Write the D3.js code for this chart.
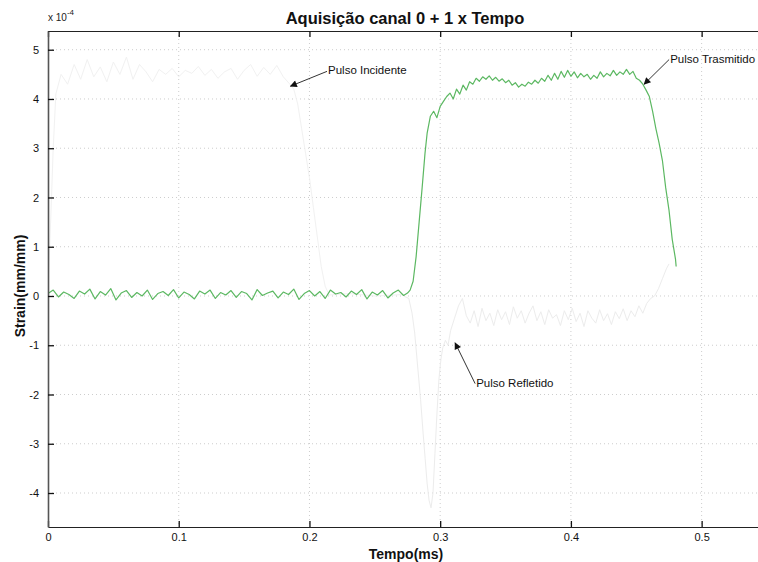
<!DOCTYPE html>
<html>
<head>
<meta charset="utf-8">
<script src="https://cdn.jsdelivr.net/npm/d3@7/dist/d3.min.js"></script>
<style>
  html, body { margin: 0; padding: 0; background: #fff; }
  svg { display: block; font-family: "Liberation Sans", Arial, sans-serif; }
</style>
</head>
<body>
<svg id="chart" width="758" height="562"></svg>
<script>
// Strain values in units of 1e-4 mm/mm, time in ms.
const xTicks = [0, 0.1, 0.2, 0.3, 0.4, 0.5];
const xTickLabels = ["0", "0.1", "0.2", "0.3", "0.4", "0.5"];
const yTicks = [-4, -3, -2, -1, 0, 1, 2, 3, 4, 5];
const yTickLabels = ["-4", "-3", "-2", "-1", "0", "1", "2", "3", "4", "5"];

// Channel 1: transmitted pulse (green)
const transmittedBase = [
  [0.000,0.05],[0.004,0.12],[0.008,-0.02],[0.012,0.08],[0.016,0.03],[0.020,-0.05],[0.024,0.10],
  [0.028,0.04],[0.032,0.14],[0.036,-0.06],[0.040,0.09],[0.044,0.02],[0.048,0.15],[0.052,-0.08],
  [0.056,0.06],[0.060,0.11],[0.064,-0.03],[0.068,0.07],[0.072,0.00],[0.076,0.12],[0.080,-0.07],
  [0.084,0.05],[0.088,0.09],[0.092,0.01],[0.096,0.13],[0.100,-0.04],[0.104,0.08],[0.108,0.03],
  [0.112,-0.06],[0.116,0.10],[0.120,0.04],[0.124,0.12],[0.128,-0.05],[0.132,0.07],[0.136,0.02],
  [0.140,0.11],[0.144,-0.03],[0.148,0.09],[0.152,0.05],[0.156,-0.08],[0.160,0.13],[0.164,0.01],
  [0.168,0.06],[0.172,0.10],[0.176,-0.04],[0.180,0.08],[0.184,0.03],[0.188,0.14],[0.192,-0.07],
  [0.196,0.05],[0.200,0.11],[0.204,0.00],[0.208,0.09],[0.212,-0.05],[0.216,0.12],[0.220,0.04],
  [0.224,0.07],[0.228,-0.02],[0.232,0.10],[0.236,0.03],[0.240,0.13],[0.244,-0.06],[0.248,0.08],
  [0.252,0.02],[0.256,0.11],[0.260,-0.04],[0.264,0.06],[0.268,0.12],[0.272,0.01],[0.275,0.06]
];
const transmittedPulse = [
  [0.2770,0.12],[0.2793,0.30],[0.2816,0.80],[0.2839,1.50],[0.2862,2.20],[0.2884,2.90],[0.2900,3.30],
  [0.2925,3.65],[0.2950,3.75],[0.2975,3.62],[0.3000,3.85],[0.3025,3.95],[0.3050,4.05],[0.3075,4.12],
  [0.3100,4.00],[0.3125,4.20],[0.3150,4.10],[0.3175,4.28],[0.3200,4.18],[0.3225,4.35],[0.3250,4.30],
  [0.3275,4.42],[0.3300,4.36],[0.3325,4.45],[0.3350,4.40],[0.3375,4.47],[0.3400,4.38],[0.3425,4.44],
  [0.3450,4.36],[0.3475,4.41],[0.3500,4.33],[0.3525,4.38],[0.3550,4.28],[0.3575,4.33],[0.3600,4.24],
  [0.3625,4.30],[0.3650,4.26],[0.3675,4.34],[0.3700,4.30],[0.3725,4.38],[0.3750,4.32],[0.3775,4.42],
  [0.3800,4.36],[0.3825,4.48],[0.3850,4.38],[0.3875,4.52],[0.3900,4.40],[0.3925,4.56],[0.3950,4.44],
  [0.3975,4.58],[0.4000,4.46],[0.4025,4.55],[0.4050,4.43],[0.4075,4.52],[0.4100,4.45],[0.4125,4.50],
  [0.4150,4.40],[0.4175,4.48],[0.4200,4.42],[0.4225,4.55],[0.4250,4.45],[0.4275,4.52],[0.4300,4.47],
  [0.4325,4.58],[0.4350,4.48],[0.4375,4.55],[0.4400,4.50],[0.4425,4.60],[0.4450,4.50],[0.4475,4.56],
  [0.4500,4.42],[0.4525,4.38],[0.4550,4.30],[0.4575,4.18],[0.4600,4.05],[0.4625,3.75],[0.4650,3.40],
  [0.4675,3.10],[0.4700,2.75],[0.4725,2.20],[0.4750,1.75],[0.4775,1.15],[0.4800,0.75],[0.4805,0.60]
];

// Channel 0: incident and reflected pulses (faint grey)
const incident = [
  [0.000,0.00],[0.002,1.50],[0.004,3.00],[0.006,4.10],[0.010,4.50],[0.015,4.30],[0.020,4.70],
  [0.025,4.40],[0.030,4.80],[0.035,4.45],[0.040,4.65],[0.045,4.35],[0.050,4.75],[0.055,4.50],
  [0.060,4.85],[0.065,4.40],[0.070,4.70],[0.075,4.55],[0.080,4.35],[0.085,4.60],[0.090,4.50],
  [0.095,4.62],[0.100,4.45],[0.105,4.58],[0.110,4.52],[0.115,4.66],[0.120,4.48],[0.125,4.60],
  [0.130,4.42],[0.135,4.55],[0.140,4.62],[0.145,4.40],[0.150,4.58],[0.155,4.70],[0.160,4.46],
  [0.165,4.64],[0.170,4.50],[0.175,4.68],[0.180,4.45],[0.185,4.30],[0.188,4.20],[0.191,3.90],
  [0.194,3.40],[0.197,2.90],[0.200,2.40],[0.203,1.80],[0.206,1.20],[0.209,0.60],[0.212,0.20],
  [0.215,0.02],[0.230,0.05],[0.250,0.00],[0.272,0.03]
];
const reflected = [
  [0.272,0.00],[0.276,-0.05],[0.2785,-0.35],[0.2805,-0.75],[0.283,-1.50],[0.285,-2.10],
  [0.287,-2.80],[0.2885,-3.30],[0.290,-3.80],[0.2915,-4.15],[0.293,-4.30],[0.2945,-4.00],
  [0.296,-3.20],[0.2975,-2.40],[0.299,-1.70],[0.3005,-1.30],[0.302,-1.05],[0.304,-0.90],
  [0.306,-1.00],[0.308,-0.70],[0.311,-0.45],[0.314,-0.20],[0.317,-0.05],[0.320,-0.40],
  [0.323,-0.55],[0.326,-0.30],[0.329,-0.62],[0.332,-0.25],[0.335,-0.50],[0.338,-0.35],
  [0.341,-0.60],[0.344,-0.28],[0.347,-0.48],[0.350,-0.32],[0.353,-0.58],[0.356,-0.22],
  [0.359,-0.45],[0.362,-0.30],[0.365,-0.55],[0.368,-0.35],[0.371,-0.20],[0.374,-0.50],
  [0.377,-0.32],[0.380,-0.58],[0.383,-0.28],[0.386,-0.45],[0.389,-0.38],[0.392,-0.60],
  [0.395,-0.30],[0.398,-0.48],[0.401,-0.25],[0.404,-0.52],[0.407,-0.35],[0.410,-0.62],
  [0.413,-0.30],[0.416,-0.45],[0.419,-0.55],[0.422,-0.28],[0.425,-0.50],[0.428,-0.36],
  [0.431,-0.58],[0.434,-0.32],[0.437,-0.46],[0.440,-0.26],[0.443,-0.50],[0.446,-0.30],
  [0.449,-0.42],[0.452,-0.20],[0.455,-0.35],[0.458,-0.15],[0.461,-0.05],[0.464,0.00],
  [0.467,0.15],[0.470,0.35],[0.473,0.55],[0.475,0.65]
];

// Annotations: [label, text x, text y, arrow tip x, arrow tip y]
const annotations = [
  ["Pulso Incidente", 0.2142, 4.50, 0.1855, 4.26],
  ["Pulso Trasmitido", 0.4759, 4.74, 0.4560, 4.30],
  ["Pulso Refletido", 0.3275, -1.84, 0.3114, -0.95]
];

const svg = d3.select("#chart");
const margin = { left: 48, top: 31, bottom: 527, right: 767 };

const x = d3.scaleLinear().domain([0, 0.55]).range([margin.left, margin.right]);
const y = d3.scaleLinear().domain([-4.69, 5.38]).range([margin.bottom, margin.top]);

const defs = svg.append("defs");
defs.append("clipPath").attr("id", "plotClip")
  .append("rect")
  .attr("x", margin.left).attr("y", margin.top)
  .attr("width", margin.right - margin.left).attr("height", margin.bottom - margin.top);
defs.append("marker")
  .attr("id", "arrowHead")
  .attr("viewBox", "0 0 10 10")
  .attr("refX", 9).attr("refY", 5)
  .attr("markerWidth", 9).attr("markerHeight", 7)
  .attr("markerUnits", "userSpaceOnUse")
  .attr("orient", "auto")
  .append("path")
  .attr("d", "M0,0 L10,5 L0,10 Z")
  .attr("fill", "#111");

// Dotted grid
const grid = svg.append("g").attr("stroke", "#cdcdcd").attr("stroke-dasharray", "1,3").attr("stroke-width", 1);
grid.selectAll(".gx").data(xTicks.slice(1)).join("line")
  .attr("x1", d => x(d)).attr("x2", d => x(d))
  .attr("y1", margin.top).attr("y2", margin.bottom);
grid.selectAll(".gy").data(yTicks).join("line")
  .attr("x1", margin.left).attr("x2", margin.right)
  .attr("y1", d => y(d)).attr("y2", d => y(d));

const line = d3.line().x(d => x(d[0])).y(d => y(d[1]));
const plot = svg.append("g").attr("clip-path", "url(#plotClip)");

plot.append("path").datum(incident)
  .attr("d", line).attr("fill", "none")
  .attr("stroke", "#f1f1f1").attr("stroke-width", 1);
plot.append("path").datum(reflected)
  .attr("d", line).attr("fill", "none")
  .attr("stroke", "#ececec").attr("stroke-width", 1);
plot.append("path").datum(transmittedBase.concat(transmittedPulse))
  .attr("d", line).attr("fill", "none")
  .attr("stroke", "#5cb862").attr("stroke-width", 1.2)
  .attr("stroke-linejoin", "round");

// Axes
const xAxisBottom = d3.axisBottom(x).tickValues(xTicks).tickFormat((d, i) => xTickLabels[i])
  .tickSizeInner(-6).tickSizeOuter(0).tickPadding(6);
const gxb = svg.append("g").attr("transform", `translate(0,${margin.bottom})`).call(xAxisBottom);

const xAxisTop = d3.axisTop(x).tickValues(xTicks).tickFormat("")
  .tickSizeInner(-6).tickSizeOuter(0);
const gxt = svg.append("g").attr("transform", `translate(0,${margin.top})`).call(xAxisTop);

const yAxis = d3.axisLeft(y).tickValues(yTicks).tickFormat((d, i) => yTickLabels[i])
  .tickSizeInner(-6).tickSizeOuter(0).tickPadding(9);
const gy = svg.append("g").attr("transform", `translate(${margin.left},0)`).call(yAxis);

[gxb, gxt, gy].forEach(g => {
  g.select(".domain").attr("stroke", "#222").attr("stroke-width", 1.2);
  g.selectAll(".tick line").attr("stroke", "#111").attr("stroke-width", 1.3);
  g.selectAll(".tick text").attr("fill", "#111").attr("font-size", 11)
    .attr("font-family", "'Liberation Sans', Arial, sans-serif");
});
gy.select(".domain").attr("stroke", "#555").attr("stroke-width", 1.6);

// Exponent label
const expo = svg.append("text").attr("x", 48).attr("y", 21)
  .attr("font-size", 10).attr("fill", "#222");
expo.append("tspan").text("x 10");
expo.append("tspan").attr("dy", -6).attr("font-size", 8).text("-4");

// Title and axis labels
svg.append("text").attr("x", 405).attr("y", 24).attr("text-anchor", "middle")
  .attr("font-size", 16.5).attr("font-weight", "bold").attr("fill", "#111")
  .text("Aquisição canal 0 + 1 x Tempo");
svg.append("text").attr("x", 406).attr("y", 559).attr("text-anchor", "middle")
  .attr("font-size", 14).attr("font-weight", "bold").attr("fill", "#111")
  .text("Tempo(ms)");
svg.append("text")
  .attr("transform", `translate(25,${y(0) - 10}) rotate(-90)`)
  .attr("text-anchor", "middle")
  .attr("font-size", 14).attr("font-weight", "bold").attr("fill", "#111")
  .text("Strain(mm/mm)");

// Pulse annotations with arrows
const ann = svg.append("g");
annotations.forEach(([label, tx, ty, ax, ay]) => {
  ann.append("line")
    .attr("x1", x(tx) - 1).attr("y1", y(ty) - 3)
    .attr("x2", x(ax)).attr("y2", y(ay))
    .attr("stroke", "#333").attr("stroke-width", 1)
    .attr("marker-end", "url(#arrowHead)");
  ann.append("text")
    .attr("x", x(tx)).attr("y", y(ty))
    .attr("font-size", 11.5).attr("fill", "#111")
    .text(label);
});
</script>
</body>
</html>
